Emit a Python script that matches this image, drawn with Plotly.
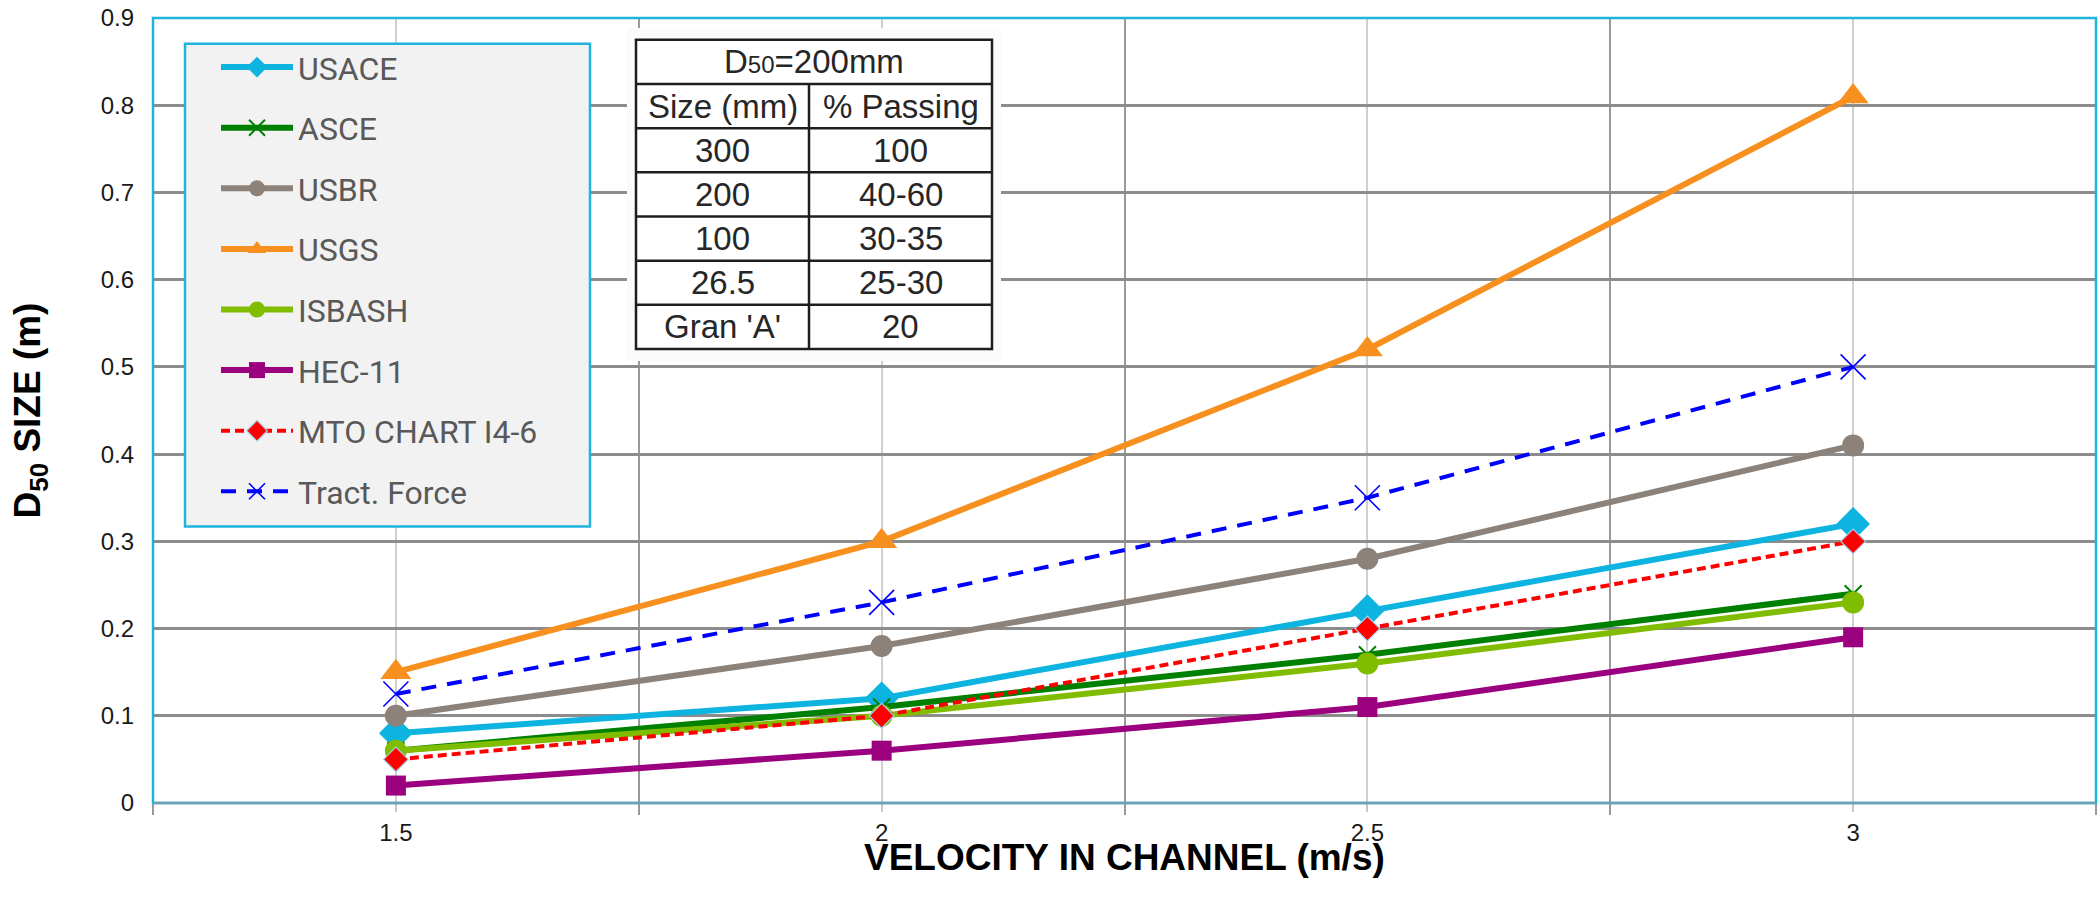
import plotly.graph_objects as go

# ---------------- data ----------------
velocity = [1.5, 2, 2.5, 3]
x_tick_labels = ["1.5", "2", "2.5", "3"]
y_tick_values = [0, 0.1, 0.2, 0.3, 0.4, 0.5, 0.6, 0.7, 0.8, 0.9]
y_tick_labels = ["0", "0.1", "0.2", "0.3", "0.4", "0.5", "0.6", "0.7", "0.8", "0.9"]

usace = [0.08, 0.12, 0.22, 0.32]
asce = [0.06, 0.11, 0.17, 0.24]
usbr = [0.10, 0.18, 0.28, 0.41]
usgs = [0.15, 0.30, 0.52, 0.81]
isbash = [0.06, 0.10, 0.16, 0.23]
hec11 = [0.02, 0.06, 0.11, 0.19]
mto = [0.05, 0.10, 0.20, 0.30]
tract = [0.125, 0.23, 0.35, 0.50]

series_names = ["USACE", "ASCE", "USBR", "USGS", "ISBASH", "HEC-11",
                "MTO CHART I4-6", "Tract. Force"]

x_title = "<b>VELOCITY IN CHANNEL (m/s)</b>"
y_title = "<b>D<sub>50</sub> SIZE (m)</b>"

table_title = "D<span style='font-size:24px'>50</span>=200mm"
table_header = ["Size (mm)", "% Passing"]
table_sizes = ["300", "200", "100", "26.5", "Gran 'A'"]
table_passing = ["100", "40-60", "30-35", "25-30", "20"]

# ---------------- geometry (pixels) ----------------
W, H = 2100, 901
L, R, T, B = 153, 2096, 11, 803   # plot area edges in pixels


def px(x):
    return (x - L) / (R - L)


def py(y):
    return (B - y) / (B - T)


styles = [
    dict(color="#0db4e0", width=6, dash="solid", symbol="diamond", msize=26,
         mline=dict(width=0)),
    dict(color="#008000", width=6, dash="solid", symbol="x-thin", msize=17,
         mline=dict(width=2, color="#008000")),
    dict(color="#8c8279", width=6, dash="solid", symbol="circle", msize=22,
         mline=dict(width=0)),
    dict(color="#f7901e", width=6, dash="solid", symbol="triangle-up", msize=27,
         mline=dict(width=0)),
    dict(color="#80bc00", width=6, dash="solid", symbol="circle", msize=22,
         mline=dict(width=0)),
    dict(color="#9b007f", width=6, dash="solid", symbol="square", msize=20,
         mline=dict(width=0)),
    dict(color="#ff0000", width=4, dash="9px,5px", symbol="diamond", msize=19,
         mline=dict(width=1.2, color="#9fd3ee")),
    dict(color="#0000ff", width=4, dash="15px,11px", symbol="x-thin", msize=25,
         mline=dict(width=1.6, color="#0000ff")),
]

series_values = [usace, asce, usbr, usgs, isbash, hec11, mto, tract]

fig = go.Figure()
for name, vals, st in zip(series_names, series_values, styles):
    fig.add_trace(go.Scatter(
        x=velocity, y=vals, name=name, mode="lines+markers",
        legendgroup=name,
        line=dict(color=st["color"], width=st["width"], dash=st["dash"]),
        marker=dict(symbol=st["symbol"], size=st["msize"], color=st["color"],
                    line=st["mline"]),
    ))

shapes = []
annotations = []

# plot border (cyan)
shapes.append(dict(type="rect", xref="paper", yref="paper", x0=0, x1=1, y0=0, y1=1,
                   line=dict(color="#1fb4dc", width=2.5), layer="above"))
# bottom axis line
shapes.append(dict(type="line", xref="paper", yref="paper", x0=0, x1=1, y0=0, y1=0,
                   line=dict(color="#6f9fb3", width=2.5), layer="above"))

# legend panel
shapes.append(dict(type="rect", xref="paper", yref="paper",
                   x0=px(185), x1=px(590), y0=py(524), y1=py(37),
                   fillcolor="#f2f2f2", line=dict(color="#1fb4dc", width=2.5),
                   layer="above"))

# ---------------- inset table ----------------
tx0, tx1, ty0, ty1 = 636, 992, 33, 345
colx = 809
row_h = (ty1 - ty0) / 7
shapes.append(dict(type="rect", xref="paper", yref="paper",
                   x0=px(627), x1=px(1001), y0=py(357), y1=py(21),
                   fillcolor="#fbfbfb", line=dict(width=0), layer="above"))
shapes.append(dict(type="rect", xref="paper", yref="paper",
                   x0=px(tx0), x1=px(tx1), y0=py(ty1), y1=py(ty0),
                   fillcolor="white", line=dict(color="#1e1e1e", width=2.5),
                   layer="above"))
for i in range(1, 7):
    yy = ty0 + i * row_h
    shapes.append(dict(type="line", xref="paper", yref="paper",
                       x0=px(tx0), x1=px(tx1), y0=py(yy), y1=py(yy),
                       line=dict(color="#1e1e1e", width=2.5), layer="above"))
shapes.append(dict(type="line", xref="paper", yref="paper",
                   x0=px(colx), x1=px(colx), y0=py(ty0 + row_h), y1=py(ty1),
                   line=dict(color="#1e1e1e", width=2.5), layer="above"))

tfont = dict(family="Liberation Sans, Arial, sans-serif", size=33, color="#262626")
annotations.append(dict(text=table_title, xref="paper", yref="paper",
                        x=px((tx0 + tx1) / 2), y=py(ty0 + row_h / 2),
                        showarrow=False, font=tfont, xanchor="center", yanchor="middle"))
c1 = (tx0 + colx) / 2
c2 = (colx + tx1) / 2
for j, htxt in enumerate(table_header):
    annotations.append(dict(text=htxt, xref="paper", yref="paper",
                            x=px(c1 if j == 0 else c2), y=py(ty0 + 1.5 * row_h),
                            showarrow=False, font=tfont, xanchor="center", yanchor="middle"))
for i, (s, p) in enumerate(zip(table_sizes, table_passing)):
    yc = ty0 + (i + 2.5) * row_h
    annotations.append(dict(text=s, xref="paper", yref="paper", x=px(c1), y=py(yc),
                            showarrow=False, font=tfont, xanchor="center", yanchor="middle"))
    annotations.append(dict(text=p, xref="paper", yref="paper", x=px(c2), y=py(yc),
                            showarrow=False, font=tfont, xanchor="center", yanchor="middle"))

tick_font = dict(family="Liberation Sans, Arial, sans-serif", size=24, color="#1a1a1a")
title_font = dict(family="Liberation Sans, Arial, sans-serif", size=37, color="#000000")

# x axis title
annotations.append(dict(text=x_title, xref="paper", yref="paper",
                        x=px((L + R) / 2), y=py(858), xanchor="center", yanchor="middle",
                        showarrow=False, font=title_font))

fig.update_layout(
    width=W, height=H,
    margin=dict(l=L, r=W - R, t=T, b=H - B, pad=0),
    paper_bgcolor="white", plot_bgcolor="white",
    showlegend=True,
    legend=dict(
        x=px(216), y=py(33), xanchor="left", yanchor="top",
        bgcolor="rgba(0,0,0,0)", borderwidth=0,
        font=dict(family="Roboto, Open Sans, sans-serif", size=32, color="#595959"),
        itemwidth=72, tracegroupgap=16, traceorder="grouped",
    ),
    xaxis=dict(
        range=[1.25, 3.25],
        tickmode="array", tickvals=velocity, ticktext=x_tick_labels,
        ticks="outside", ticklen=8, tickwidth=1.5, tickcolor="#c8c8c8",
        showgrid=True, gridcolor="#d0d0d0", gridwidth=2,
        minor=dict(tick0=1.25, dtick=0.5, ticks="outside", ticklen=11, tickwidth=1.5,
                   tickcolor="#9a9a9a", showgrid=True, gridcolor="#9a9a9a", gridwidth=1.5),
        showline=False, zeroline=False,
        tickfont=tick_font, ticklabelstandoff=0,
    ),
    yaxis=dict(
        range=[0, 0.9],
        tickmode="array", tickvals=y_tick_values, ticktext=y_tick_labels,
        showgrid=True, gridcolor="#8c8c8c", gridwidth=2.5,
        zeroline=False, showline=False, ticks="",
        tickfont=tick_font, ticklabelstandoff=18, ticklabeloverflow="allow",
        title=dict(text=y_title, font=title_font, standoff=48),
    ),
    shapes=shapes,
    annotations=annotations,
)

fig.write_html("out.html", config={"displayModeBar": False},
               post_script="document.body.style.margin='0px';")
